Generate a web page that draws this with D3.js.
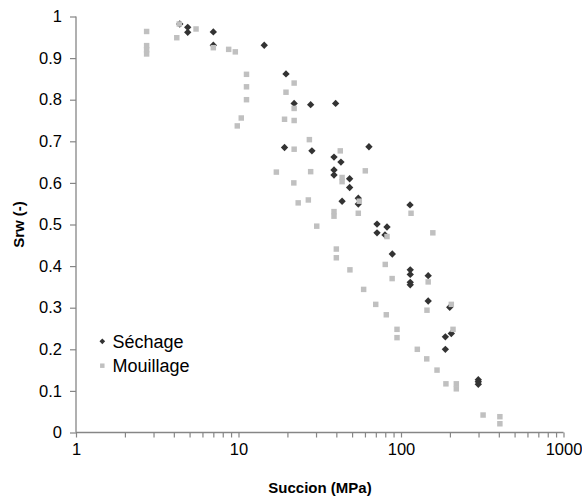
<!DOCTYPE html>
<html>
<head>
<meta charset="utf-8">
<script src="https://cdn.jsdelivr.net/npm/d3@7"></script>
<style>
  html, body { margin: 0; padding: 0; background: #fff; }
  svg { display: block; font-family: "Liberation Sans", Arial, sans-serif; }
</style>
</head>
<body>
<svg id="chart" width="582" height="497"></svg>
<script>
// ---- Data ----
const sechageSuction = [4.35, 4.87, 4.87, 7.0, 7.0, 14.4, 19.6, 22.0, 27.8, 39.6,
  19.2, 28.3, 63.5, 38.7, 42.7, 38.7, 38.7, 48.3, 48.3, 43.4,
  54.6, 54.6, 71.2, 71.2, 82.0, 79.7, 113.6, 88.4, 114, 114,
  114, 114, 147, 147, 199.5, 204, 187.5, 187.5, 299, 299, 299];
const sechageSrw = [0.982, 0.974, 0.962, 0.963, 0.931, 0.931, 0.862, 0.791, 0.788, 0.791,
  0.685, 0.677, 0.687, 0.662, 0.650, 0.631, 0.619, 0.610, 0.589, 0.556,
  0.563, 0.549, 0.501, 0.480, 0.494, 0.475, 0.547, 0.429, 0.391, 0.380,
  0.361, 0.355, 0.377, 0.316, 0.301, 0.238, 0.230, 0.200, 0.127, 0.122, 0.116];

const mouillageSuction = [2.72, 2.72, 2.72, 2.72, 4.32, 4.17, 5.48, 7.0, 8.7, 9.56,
  11.2, 11.2, 11.2, 10.4, 9.83, 22.0, 19.6, 22.0, 19.2, 22.0,
  27.3, 22.0, 42.3, 17.1, 27.8, 43.4, 43.4, 60.3, 21.9, 23.3,
  26.9, 55.4, 54.6, 38.7, 38.7, 30.3, 115.3, 82, 157, 80,
  40.0, 40.0, 48.5, 88.2, 58.9, 147, 69.9, 144.5, 81.2, 204,
  94.5, 94.5, 209, 126, 144, 166.6, 189, 219, 219, 320,
  406, 406];
const mouillageSrw = [0.964, 0.930, 0.920, 0.910, 0.982, 0.949, 0.970, 0.925, 0.921, 0.915,
  0.861, 0.831, 0.800, 0.756, 0.737, 0.840, 0.818, 0.779, 0.753, 0.750,
  0.704, 0.681, 0.677, 0.626, 0.627, 0.613, 0.603, 0.629, 0.600, 0.552,
  0.559, 0.556, 0.527, 0.531, 0.520, 0.496, 0.527, 0.471, 0.480, 0.404,
  0.441, 0.420, 0.391, 0.370, 0.344, 0.362, 0.308, 0.294, 0.283, 0.308,
  0.248, 0.228, 0.248, 0.200, 0.177, 0.150, 0.117, 0.117, 0.105, 0.042,
  0.038, 0.021];

const xTickValues = [1, 10, 100, 1000];
const xTickLabels = ["1", "10", "100", "1000"];
const yTickValues = [0, 0.1, 0.2, 0.3, 0.4, 0.5, 0.6, 0.7, 0.8, 0.9, 1];
const seriesNames = ["Séchage", "Mouillage"];
const xTitle = "Succion (MPa)";
const yTitle = "Srw (-)";

(function () {
  // ---- Layout ----
  const svg = d3.select("#chart");
  const mLeft = 76, mRight = 563.5, mTop = 16.5, mBottom = 432.5;
  const axisColor = "#868686";
  const darkColor = "#333333";
  const lightColor = "#c0c0c0";

  const x = d3.scaleLog().domain([1, 1000]).range([mLeft, mRight]);
  const y = d3.scaleLinear().domain([0, 1]).range([mBottom, mTop]);

  // minor + major ticks for log axis
  const allXTicks = [];
  for (let d = 1; d < 1000; d *= 10) for (let k = 1; k < 10; k++) allXTicks.push(d * k);
  allXTicks.push(1000);

  const xAxis = d3.axisBottom(x).tickValues(allXTicks).tickSize(5)
    .tickFormat(d => { const i = xTickValues.indexOf(d); return i >= 0 ? xTickLabels[i] : ""; });
  const gx = svg.append("g").attr("transform", `translate(0,${mBottom})`).call(xAxis);
  gx.select(".domain").attr("stroke", axisColor).attr("stroke-width", 1.3).attr("d", `M${mLeft},0H${mRight}`);
  gx.selectAll(".tick line").attr("stroke", axisColor).attr("stroke-width", 1.2);
  gx.selectAll(".tick text").attr("fill", "#000").attr("font-size", "16.5px")
    .attr("font-family", "Liberation Sans, Arial, sans-serif").attr("y", 11).attr("dy", "0.71em");

  const yAxis = d3.axisLeft(y).tickValues(yTickValues).tickSize(6).tickPadding(8)
    .tickFormat(d => d3.format("~g")(+d.toFixed(1)));
  const gy = svg.append("g").attr("transform", `translate(${mLeft},0)`).call(yAxis);
  gy.select(".domain").attr("stroke", axisColor).attr("stroke-width", 1.3).attr("d", `M0,${mTop}V${mBottom}`);
  gy.selectAll(".tick line").attr("stroke", axisColor).attr("stroke-width", 1.2);
  gy.selectAll(".tick text").attr("fill", "#000").attr("font-size", "16.5px")
    .attr("font-family", "Liberation Sans, Arial, sans-serif");

  // ---- Marks ----
  const sech = sechageSuction.map((s, i) => ({ s, w: sechageSrw[i] }));
  const mouil = mouillageSuction.map((s, i) => ({ s, w: mouillageSrw[i] }));

  const diamond = d3.symbol().type(d3.symbolSquare).size(27);
  const square = d3.symbol().type(d3.symbolSquare).size(30);

  svg.append("g").selectAll("path").data(sech).join("path")
    .attr("d", diamond)
    .attr("transform", d => `translate(${x(d.s)},${y(d.w)}) rotate(45)`)
    .attr("fill", darkColor);

  svg.append("g").selectAll("path").data(mouil).join("path")
    .attr("d", square)
    .attr("transform", d => `translate(${x(d.s)},${y(d.w)})`)
    .attr("fill", lightColor);

  // ---- Titles ----
  svg.append("text").attr("x", 320).attr("y", 493)
    .attr("text-anchor", "middle").attr("font-weight", "bold").attr("font-size", "15px")
    .attr("fill", "#000").text(xTitle);
  svg.append("text").attr("transform", `translate(24,${(mTop + mBottom) / 2}) rotate(-90)`)
    .attr("text-anchor", "middle").attr("font-weight", "bold").attr("font-size", "15px")
    .attr("fill", "#000").text(yTitle);

  // ---- Legend ----
  const legend = svg.append("g");
  const legItems = [
    { name: seriesNames[0], sym: d3.symbol().type(d3.symbolSquare).size(16), rot: 45, color: darkColor, cy: 341.3 },
    { name: seriesNames[1], sym: d3.symbol().type(d3.symbolSquare).size(20), rot: 0, color: lightColor, cy: 365.7 }
  ];
  legItems.forEach(it => {
    legend.append("path").attr("d", it.sym())
      .attr("transform", `translate(102.3,${it.cy}) rotate(${it.rot})`).attr("fill", it.color);
    legend.append("text").attr("x", 112.5).attr("y", it.cy).attr("dy", "0.35em")
      .attr("font-size", "18px").attr("fill", "#000").text(it.name);
  });
})();
</script>
</body>
</html>
